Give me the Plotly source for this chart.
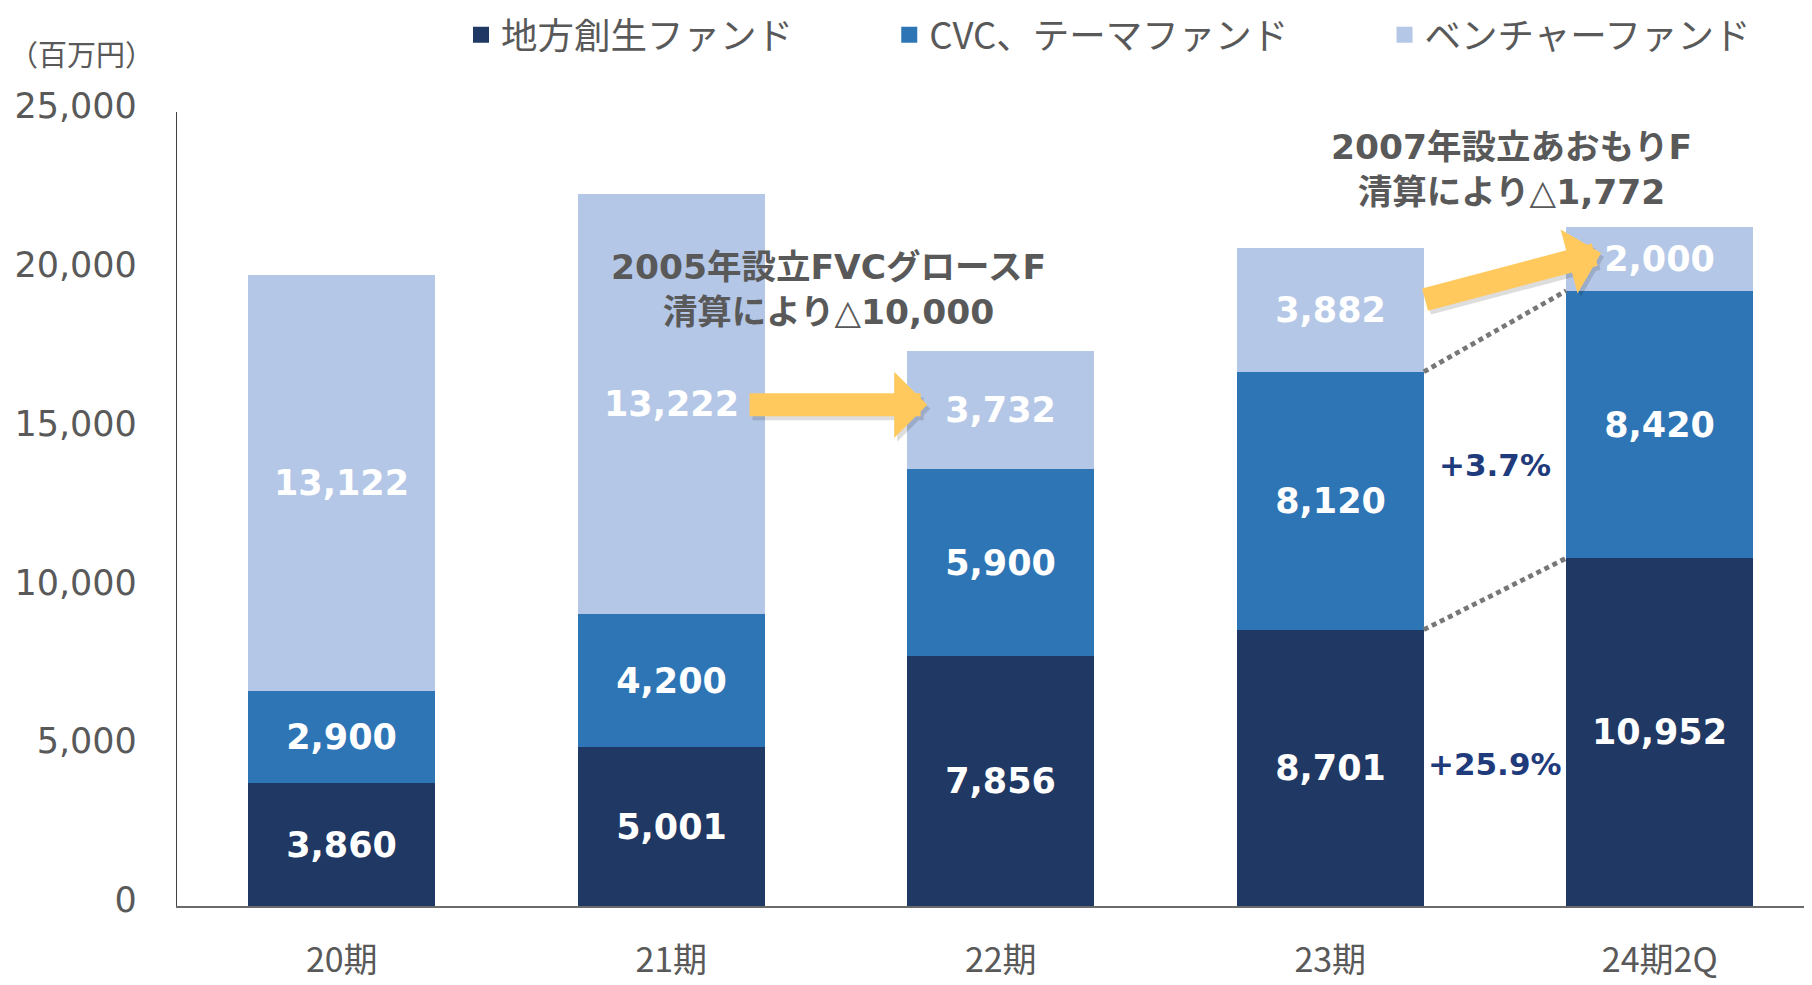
import plotly.graph_objects as go

categories = ["20期", "21期", "22期", "23期", "24期2Q"]
chiho = [3860, 5001, 7856, 8701, 10952]
cvc = [2900, 4200, 5900, 8120, 8420]
venture = [13122, 13222, 3732, 3882, 2000]
series_names = ["地方創生ファンド", "CVC、テーマファンド", "ベンチャーファンド"]
colors = ["#203864", "#2E75B6", "#B4C7E7"]
y_ticks = [0, 5000, 10000, 15000, 20000, 25000]

W = 0.568
xs = list(range(len(categories)))
GRAY = "#595959"
LATIN = "DejaVu Sans, Noto Sans CJK JP, sans-serif"
CJK = "Noto Sans CJK JP, sans-serif"

# page body adds an 8px offset; figure sized to reach the window edges
FW, FH = 1804, 977
L, R, T, B = 169, 0, 104, 79
PW, PH = FW - L - R, FH - T - B

fig = go.Figure()
for name, vals, col in zip(series_names, [chiho, cvc, venture], colors):
    fig.add_trace(go.Bar(
        x=xs, y=vals, name=name, width=W, showlegend=False,
        marker=dict(color=col, line=dict(width=0)),
        texttemplate="%{y:,}", textposition="inside", insidetextanchor="middle",
        constraintext="none",
        textfont=dict(family=LATIN, size=35, color="white", weight="bold"),
        hoverinfo="skip",
    ))

# legend entries (square swatches); spacing padding on all but the last
pads = ["\u3000\u3000\u2002", "\u3000\u3000\u2002", ""]
for name, col, pad in zip(series_names, colors, pads):
    fig.add_trace(go.Scatter(
        x=[None], y=[None], mode="markers", name=name + pad,
        marker=dict(symbol="square", size=22, color=col), hoverinfo="skip",
    ))

# dotted connector lines between 23期 and 24期2Q
x0, x1 = 3 + W / 2, 4 - W / 2
for ya, yb in [(chiho[3] + cvc[3], chiho[4] + cvc[4]), (chiho[3], chiho[4])]:
    fig.add_trace(go.Scatter(
        x=[x0, x1], y=[ya, yb], mode="lines", showlegend=False, hoverinfo="skip",
        line=dict(color="#777777", width=4.8, dash="5px,4px"),
    ))

ann = []
def arrow(tx, ty, ax, ay):
    # soft shadow
    ann.append(dict(x=tx + 0.009, y=ty - 120, ax=ax + 0.009, ay=ay - 120, xref="x", yref="y",
                    axref="x", ayref="y", text="", showarrow=True, arrowhead=1,
                    arrowsize=0.48, arrowwidth=23, arrowcolor="rgba(0,0,0,0.13)"))
    ann.append(dict(x=tx, y=ty, ax=ax, ay=ay, xref="x", yref="y",
                    axref="x", ayref="y", text="", showarrow=True, arrowhead=1,
                    arrowsize=0.48, arrowwidth=23, arrowcolor="#FFC95E"))

arrow(1.777, 15780, 1.233, 15780)
arrow(3.822, 20560, 3.283, 19083)

ann.append(dict(x=1.476, y=19398, xref="x", yref="y", showarrow=False,
                text="<b>2005年設立FVCグロースF<br>清算により△10,000</b>",
                font=dict(family=LATIN, size=34.5, color=GRAY)))
ann.append(dict(x=3.55, y=23180, xref="x", yref="y", showarrow=False,
                text="<b>2007年設立あおもりF<br>清算により△1,772</b>",
                font=dict(family=LATIN, size=34.5, color=GRAY)))
ann.append(dict(x=3.5, y=13887, xref="x", yref="y", showarrow=False,
                text="<b>+3.7%</b>", font=dict(family=LATIN, size=31, color="#1F3B7B")))
ann.append(dict(x=3.5, y=4471, xref="x", yref="y", showarrow=False,
                text="<b>+25.9%</b>", font=dict(family=LATIN, size=31, color="#1F3B7B")))
ann.append(dict(x=(73 - L) / PW, y=(FH - B - 45) / PH, xref="paper", yref="paper",
                xanchor="center", yanchor="middle",
                showarrow=False, text="（百万円）",
                font=dict(family=CJK, size=29, color=GRAY)))

fig.update_layout(
    width=FW, height=FH,
    margin=dict(l=L, r=R, t=T, b=B, autoexpand=False),
    paper_bgcolor="white", plot_bgcolor="white",
    barmode="stack", bargap=0,
    annotations=ann,
    showlegend=True,
    legend=dict(orientation="h", xref="container", yref="container",
                x=453 / FW, xanchor="left", y=1 - 27 / FH, yanchor="middle",
                font=dict(family=CJK, size=36.5, color=GRAY),
                traceorder="normal", bgcolor="rgba(0,0,0,0)"),
    xaxis=dict(range=[-0.5, 4.462], tickvals=xs, ticktext=categories,
               showgrid=False, zeroline=False, showline=True, linecolor="#6b6b6b",
               linewidth=1.5, ticks="", ticklabelstandoff=23, automargin=False,
               tickfont=dict(family=CJK, size=34, color=GRAY), fixedrange=True),
    yaxis=dict(range=[0, 25000], tickvals=y_ticks, tickformat=",",
               showgrid=False, zeroline=False, showline=True, linecolor="#404040",
               linewidth=1.2, ticks="", ticklabelstandoff=32, ticklabelshift=-6,
               automargin=False,
               tickfont=dict(family=LATIN, size=35, color=GRAY), fixedrange=True),
)

fig.write_html("out.html")
